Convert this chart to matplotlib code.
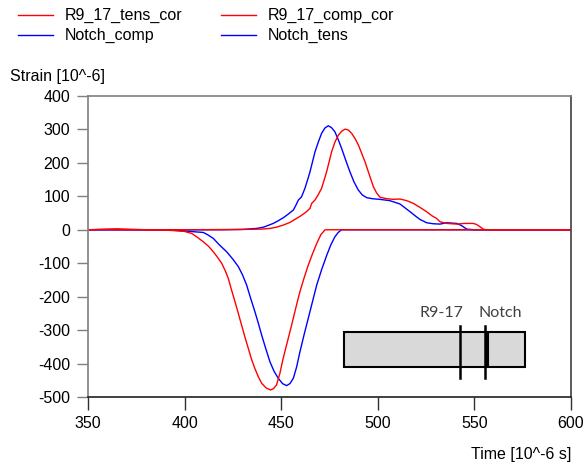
import matplotlib
matplotlib.use("Agg")
import matplotlib.pyplot as plt
from matplotlib.patches import Rectangle
from matplotlib.lines import Line2D

plt.rcParams['font.family'] = ['Liberation Sans', 'DejaVu Sans']
plt.rcParams['axes.unicode_minus'] = False

# Strain gauge signals, time in microseconds, strain in 1e-6
t_r9_tens = [350, 365, 380, 400, 430, 440, 444.2, 447.7, 451.1, 454.5, 458, 460.5, 463.1, 464.9,
             465.8, 467.5, 469.2, 470.9, 472.2, 473.5, 474.8, 476.1, 477.8, 479.6, 481.4, 483.1,
             484.8, 486.5, 488.3, 490, 491.7, 493.4, 496, 497.7, 499.4, 501.2, 504.6, 508, 511.5,
             515, 518.4, 521.8, 525.3, 528, 530.4, 532.2, 535.7, 540.9, 545, 549.4, 551.1, 552.9,
             554.6, 556, 600]
r9_tens = [0, 3, 0, 0, 1, 2, 4, 8, 14, 22, 34, 43, 54, 64,
           79, 89, 105, 124, 148, 173, 203, 233, 262, 283, 295, 301,
           298, 288, 272, 253, 228, 203, 158, 129, 110, 97, 93, 91, 92,
           87, 79, 67, 54, 42, 34, 24, 19, 17, 19, 19, 16, 9,
           2, 0, 0]

t_r9_comp = [350, 360, 370, 380, 390, 396, 400, 403.7, 406.5, 409.7, 412.5, 414.9, 417, 419.2,
             421, 422.6, 424.3, 426.1, 427.8, 429.5, 431.2, 433, 434.7, 436.4, 438.2, 439.9,
             442.2, 444.5, 446, 447.6, 449.3, 451, 453.2, 455.4, 457.5, 459.7, 461.8, 464,
             466.2, 468.4, 470.5, 472.7, 480, 500, 550, 600]
r9_comp = [0, 1, 0, 0, -1, -3, -5, -11, -22, -36, -50, -66, -82, -100,
           -122, -145, -180, -215, -250, -285, -320, -355, -388, -415, -440, -459,
           -473, -479, -475, -464, -430, -385, -335, -285, -235, -185, -145, -106,
           -72, -41, -15, 0, 0, 0, 0, 0]

t_notch_comp = [350, 370, 390, 401, 405, 409.7, 412, 414.9, 418, 421.8, 425, 427.8, 430, 432.1,
                434.2, 436.4, 438.2, 439.9, 442, 444.2, 446.3, 448.5, 450.7, 452.8, 454.5, 456.3,
                458, 459.7, 461.8, 464, 466.2, 468.4, 471, 473.6, 475.7, 477.8, 479.5, 481.3,
                490, 600]
notch_comp = [0, 0, 0, -4, -6, -8, -15, -26, -45, -66, -88, -110, -135, -165,
              -205, -245, -280, -315, -355, -395, -423, -444, -460, -466, -460, -444,
              -410, -365, -315, -265, -215, -165, -118, -76, -45, -21, -8, 0,
              0, 0]

t_notch_tens = [350, 400, 420, 430, 437.3, 441, 445.9, 448.5, 451.1, 453.7, 456.3, 457.5, 458.9,
                460.5, 462.3, 463.6, 464.9, 466.2, 467.5, 469.2, 470.9, 472.6, 474.4, 476.1,
                477.8, 479.5, 481.3, 483.4, 485.6, 487.7, 489.9, 492, 494.3, 497, 501, 506.3,
                511.5, 514, 516.7, 519.3, 521.8, 525.3, 528.7, 532.2, 535.7, 540.9, 543.5, 546,
                550, 600]
notch_tens = [0, 0, 0, 1, 4, 8, 19, 27, 36, 47, 59, 72, 89,
              98, 124, 148, 173, 203, 233, 262, 288, 304, 311, 305,
              293, 270, 243, 208, 173, 143, 119, 104, 96, 93, 91, 87,
              77, 66, 54, 42, 31, 21, 18, 17, 21, 19, 12, 2,
              0, 0]

x_ticks = [350, 400, 450, 500, 550, 600]
y_ticks = [-500, -400, -300, -200, -100, 0, 100, 200, 300, 400]

RED = '#ff0000'
BLUE = '#0000ff'

fig = plt.figure(figsize=(5.87, 4.68), dpi=100)
ax = fig.add_axes([0.1499, 0.1517, 0.8228, 0.6432])

lw = 1.0
h3, = ax.plot(t_notch_comp, notch_comp, color=BLUE, lw=lw, label='Notch_comp')
h4, = ax.plot(t_notch_tens, notch_tens, color=BLUE, lw=lw, label='Notch_tens')
h1, = ax.plot(t_r9_tens, r9_tens, color=RED, lw=lw, label='R9_17_tens_cor')
h2, = ax.plot(t_r9_comp, r9_comp, color=RED, lw=lw, label='R9_17_comp_cor')

ax.set_xlim(350, 600)
ax.set_ylim(-500, 400)
ax.set_xticks(x_ticks)
ax.set_yticks(y_ticks)
ax.tick_params(axis='both', labelsize=11.5, direction='out', width=1.0)
ax.tick_params(axis='y', length=8, pad=5, color='#7f7f7f')
ax.tick_params(axis='x', length=9, pad=5, color='#303030')

for side, col in [('left', '#7f7f7f'), ('top', '#7f7f7f'), ('right', '#404040'), ('bottom', '#202020')]:
    ax.spines[side].set_color(col)
    ax.spines[side].set_linewidth(1.2)

fig.text(10 / 587, 1 - 77 / 468, 'Strain [10^-6]', fontsize=11.5, ha='left', va='center')
fig.text(571 / 587, 1 - 455 / 468, 'Time [10^-6 s]', fontsize=11.5, ha='right', va='center')

fig.legend(handles=[h1, h3, h2, h4], ncol=2, frameon=False, fontsize=11.5,
           loc='upper left', bbox_to_anchor=(15 / 587, 1 - 5 / 468),
           handlelength=2.2, handletextpad=0.7, columnspacing=2.45,
           labelspacing=0.3, borderpad=0.2, borderaxespad=0)

# Specimen sketch with gauge positions
tr = ax.transAxes
ax.add_patch(Rectangle((0.530, 0.0987), 0.824 - 0.530, 0.217 - 0.0987, transform=tr,
                       facecolor='#d9d9d9', edgecolor='black', lw=1.5, zorder=5))
ax.add_patch(Rectangle((0.828, 0.0987), 0.905 - 0.828, 0.217 - 0.0987, transform=tr,
                       facecolor='#d9d9d9', edgecolor='black', lw=1.5, zorder=5))
for xg in (0.770, 0.822):
    ax.add_line(Line2D([xg, xg], [0.0618, 0.236], transform=tr, color='black', lw=1.8, zorder=6))
ax.text(0.732, 0.279, 'R9-17', transform=tr, ha='center', va='center', fontsize=11.5,
        family=['Lato', 'DejaVu Sans'], color='#404040', zorder=6)
ax.text(0.854, 0.279, 'Notch', transform=tr, ha='center', va='center', fontsize=11.5,
        family=['Lato', 'DejaVu Sans'], color='#404040', zorder=6)

fig.savefig('out.png', dpi=100)
